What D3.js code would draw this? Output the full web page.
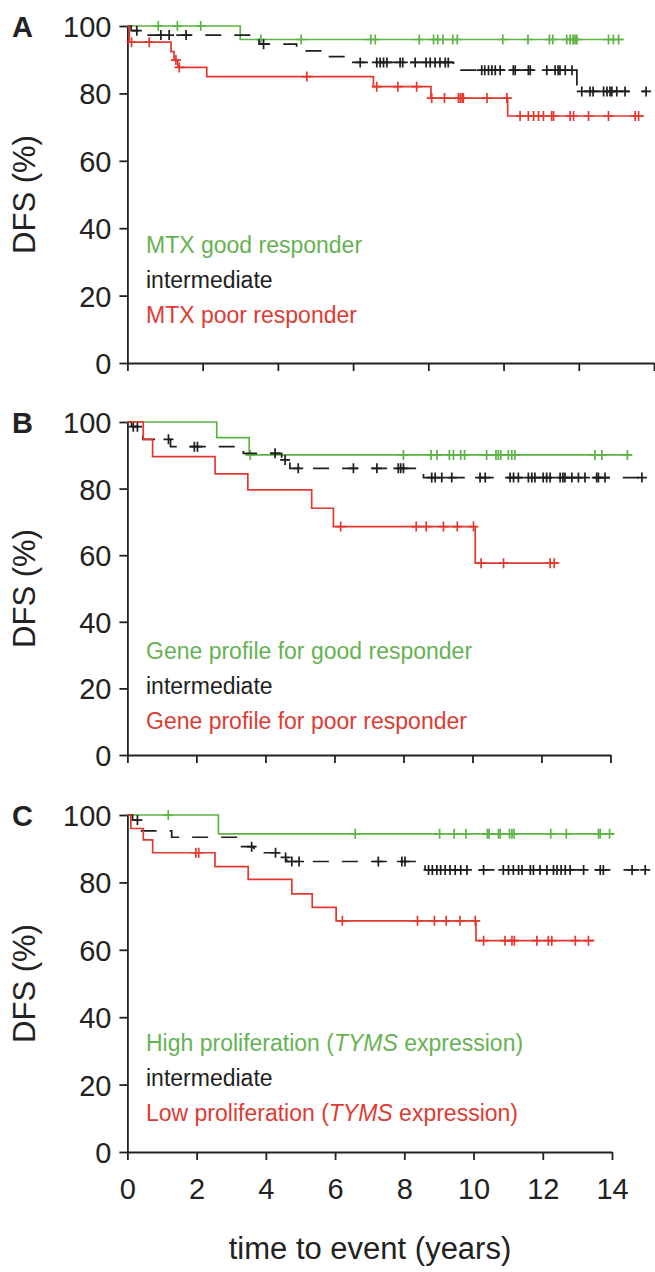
<!doctype html>
<html>
<head>
<script src="https://cdnjs.cloudflare.com/ajax/libs/d3/7.8.5/d3.min.js"></script>
<style>
  body { margin: 0; background: #fff; }
  text { font-family: "Liberation Sans", Arial, sans-serif; }
</style>
</head>
<body>
<svg id="chart" width="655" height="1272"></svg>
<script>
// ---- data: [time (years), DFS %] steps, censor times, last follow-up ----
const xTicks = [0, 2, 4, 6, 8, 10, 12, 14];
const yTicks = [0, 20, 40, 60, 80, 100];

// A
const aGoodSteps = [[0, 100], [3.0, 96]];
const aGoodCens = [0.82, 1.33, 1.95, 3.55, 4.62, 6.47, 6.59, 7.76, 8.14, 8.25, 8.39, 8.65, 8.77, 9.98, 10.65, 11.22, 11.31, 11.68, 11.77, 11.85, 11.9, 11.95, 12.79, 12.92, 13.06];
const aGoodEnd = 13.19;
const aMidSteps = [[0, 100], [0.1, 98.6], [0.5, 97.3], [3.35, 96.0], [3.5, 94.6], [4.5, 92.6], [5.2, 90.9], [5.95, 89.2], [8.67, 86.9], [11.95, 80.6]];
const aMidCens = [0.25, 0.89, 1.11, 1.56, 3.62, 6.19, 6.63, 6.72, 6.81, 6.9, 7.25, 7.32, 7.65, 7.94, 8.05, 8.18, 8.31, 8.45, 8.53, 9.42, 9.5, 9.6, 9.69, 9.78, 9.91, 10.26, 10.31, 10.66, 10.71, 11.15, 11.37, 11.45, 11.5, 11.64, 11.82, 12.08, 12.3, 12.38, 12.66, 12.75, 12.83, 12.88, 13.01, 13.23, 13.79];
const aMidEnd = 13.81;
const aPoorSteps = [[0, 100], [0.05, 95.2], [1.16, 92.4], [1.24, 89.9], [1.34, 87.7], [2.11, 85.0], [6.54, 82.0], [8.07, 78.6], [10.11, 73.3]];
const aPoorCens = [0.11, 0.58, 1.29, 1.38, 4.77, 6.63, 7.19, 7.69, 8.09, 8.43, 8.8, 8.85, 8.9, 8.93, 9.56, 10.09, 10.44, 10.66, 10.8, 10.93, 11.06, 11.28, 11.33, 11.77, 11.86, 12.26, 12.79, 13.5, 13.59];
const aPoorEnd = 13.72;

// B
const bGoodSteps = [[0, 100], [2.59, 95.3], [3.53, 90.1]];
const bGoodCens = [3.56, 8.0, 8.8, 8.97, 9.33, 9.45, 9.66, 9.77, 10.41, 10.68, 10.75, 10.82, 11.04, 11.14, 11.23, 13.55, 13.75, 14.49];
const bGoodEnd = 14.62;
const bMidSteps = [[0, 100], [0.12, 98.6], [0.32, 96.6], [0.45, 94.8], [1.25, 92.6], [3.36, 90.6], [4.47, 88.6], [4.71, 86.1], [8.58, 83.3]];
const bMidCens = [0.17, 0.29, 1.19, 1.94, 2.03, 4.28, 4.57, 4.95, 6.55, 7.23, 7.85, 7.92, 8.0, 8.82, 8.92, 9.11, 9.4, 10.22, 10.37, 11.09, 11.19, 11.33, 11.62, 11.72, 11.81, 12.05, 12.15, 12.25, 12.54, 12.62, 12.68, 12.88, 13.07, 13.26, 13.6, 13.65, 13.84, 14.91];
const bMidEnd = 14.91;
const bPoorSteps = [[0, 100], [0.46, 94.8], [0.73, 89.6], [2.54, 84.4], [3.49, 79.6], [5.34, 74.1], [5.97, 68.6], [10.08, 57.6]];
const bPoorCens = [6.18, 8.37, 8.66, 9.16, 9.56, 10.03, 10.25, 10.9, 12.25, 12.37];
const bPoorEnd = 12.49;

// C
const cGoodSteps = [[0, 100], [2.63, 94.4]];
const cGoodCens = [1.18, 6.58, 9.02, 9.44, 9.78, 10.4, 10.45, 10.72, 10.77, 11.04, 11.11, 11.17, 12.23, 12.68, 13.61, 13.66, 13.93];
const cGoodEnd = 14.06;
const cMidSteps = [[0, 100], [0.15, 98.5], [0.41, 95.3], [1.28, 93.4], [3.23, 90.6], [3.66, 88.8], [4.46, 87.4], [4.6, 86.2], [8.6, 83.7]];
const cMidCens = [0.29, 3.59, 4.28, 4.57, 4.75, 4.96, 7.25, 7.93, 8.02, 8.7, 8.81, 8.94, 9.05, 9.18, 9.32, 9.47, 9.63, 9.81, 10.29, 10.86, 11.01, 11.15, 11.3, 11.4, 11.64, 11.73, 11.92, 12.12, 12.31, 12.41, 12.53, 12.65, 12.79, 13.18, 13.66, 13.75, 14.58, 14.96];
const cMidEnd = 14.96;
const cPoorSteps = [[0, 100], [0.1, 96.0], [0.46, 92.6], [0.73, 88.8], [2.53, 84.7], [3.49, 80.9], [4.75, 76.6], [5.34, 72.6], [6.03, 68.6], [10.07, 62.7]];
const cPoorCens = [1.98, 2.06, 6.21, 8.38, 8.87, 9.21, 9.61, 10.05, 10.29, 10.91, 11.11, 11.18, 11.83, 12.16, 12.26, 12.94, 13.32];
const cPoorEnd = 13.49;

const legendA = ["MTX good responder", "intermediate", "MTX poor responder"];
const legendB = ["Gene profile for good responder", "intermediate", "Gene profile for poor responder"];
const legendC = [["High proliferation (", "TYMS", " expression)"], ["intermediate"], ["Low proliferation (", "TYMS", " expression)"]];

const green = "#5cb346", red = "#e2392f", black = "#1e1e1e";
const greenText = "#66b253", redText = "#dd3b33";

const panels = [
  { letter: "A", x: [127.4, 654], y: [363, 26], legend: legendA, legendY: 253, labels: false,
    curves: [[aGoodSteps, aGoodCens, aGoodEnd, green], [aMidSteps, aMidCens, aMidEnd, black], [aPoorSteps, aPoorCens, aPoorEnd, red]] },
  { letter: "B", x: [127.4, 610.5], y: [755, 422], legend: legendB, legendY: 659, labels: false,
    curves: [[bGoodSteps, bGoodCens, bGoodEnd, green], [bMidSteps, bMidCens, bMidEnd, black], [bPoorSteps, bPoorCens, bPoorEnd, red]] },
  { letter: "C", x: [127.4, 612], y: [1152, 815], legend: legendC, legendY: 1051, labels: true,
    curves: [[cGoodSteps, cGoodCens, cGoodEnd, green], [cMidSteps, cMidCens, cMidEnd, black], [cPoorSteps, cPoorCens, cPoorEnd, red]] }
];

const svg = d3.select("#chart");
const bis = d3.bisector(d => d[0]).right;

panels.forEach(p => {
  const x = d3.scaleLinear().domain([0, 14]).range(p.x);
  const y = d3.scaleLinear().domain([0, 100]).range(p.y);
  const g = svg.append("g");

  // axes
  const ya = g.append("g").attr("transform", "translate(" + p.x[0] + ",0)")
    .call(d3.axisLeft(y).tickValues(yTicks).tickSize(8).tickSizeOuter(0).tickPadding(8));
  const xa = g.append("g").attr("transform", "translate(0," + p.y[0] + ")")
    .call(d3.axisBottom(x).tickValues(xTicks).tickSize(8).tickSizeOuter(0).tickPadding(18)
      .tickFormat(p.labels ? d3.format("d") : ""));
  [ya, xa].forEach(a => {
    a.selectAll("path, line").attr("stroke", "#222").attr("stroke-width", 1.8);
    a.selectAll("text").attr("fill", "#222").style("font-size", "29px");
  });
  ya.selectAll("text").attr("dy", "0.36em");
  xa.selectAll("text").attr("dy", "0.72em");

  g.append("text").attr("x", 12).attr("y", p.y[1] + 10.5)
    .style("font-size", "29px").style("font-weight", "bold").attr("fill", "#222").text(p.letter);
  g.append("text").attr("transform", "translate(35," + (p.y[0] + p.y[1]) / 2 + ") rotate(-90)")
    .attr("text-anchor", "middle").style("font-size", "31px").attr("fill", "#222").text("DFS (%)");

  // curves
  const line = d3.line().x(d => x(d[0])).y(d => y(d[1])).curve(d3.curveStepAfter);
  p.curves.forEach(([steps, cens, end, col]) => {
    const pts = steps.concat([[end, steps[steps.length - 1][1]]]);
    g.append("path").attr("d", line(pts)).attr("fill", "none").attr("stroke", col)
      .attr("stroke-width", 1.7)
      .attr("stroke-dasharray", col === black ? "16,13" : null);
    const marks = cens.map(t => [t, steps[bis(steps, t) - 1][1]]);
    g.selectAll(null).data(marks).enter().append("path")
      .attr("d", d => { const cx = x(d[0]), cy = y(d[1]);
        return "M" + (cx - 5) + "," + cy + "H" + (cx + 5) + "M" + cx + "," + (cy - 5) + "V" + (cy + 5); })
      .attr("stroke", col).attr("stroke-width", 1.7).attr("fill", "none");
  });

  // legend
  const cols = [greenText, black, redText];
  p.legend.forEach((item, i) => {
    const t = g.append("text").attr("x", 146).attr("y", p.legendY + i * 35)
      .style("font-size", "23px").attr("fill", cols[i]);
    const parts = Array.isArray(item) ? item : [item];
    parts.forEach(s => t.append("tspan").text(s).style("font-style", s === "TYMS" ? "italic" : null));
  });
});

svg.append("text").attr("x", 370).attr("y", 1259).attr("text-anchor", "middle")
  .style("font-size", "31px").attr("fill", "#222").text("time to event (years)");
</script>
</body>
</html>
